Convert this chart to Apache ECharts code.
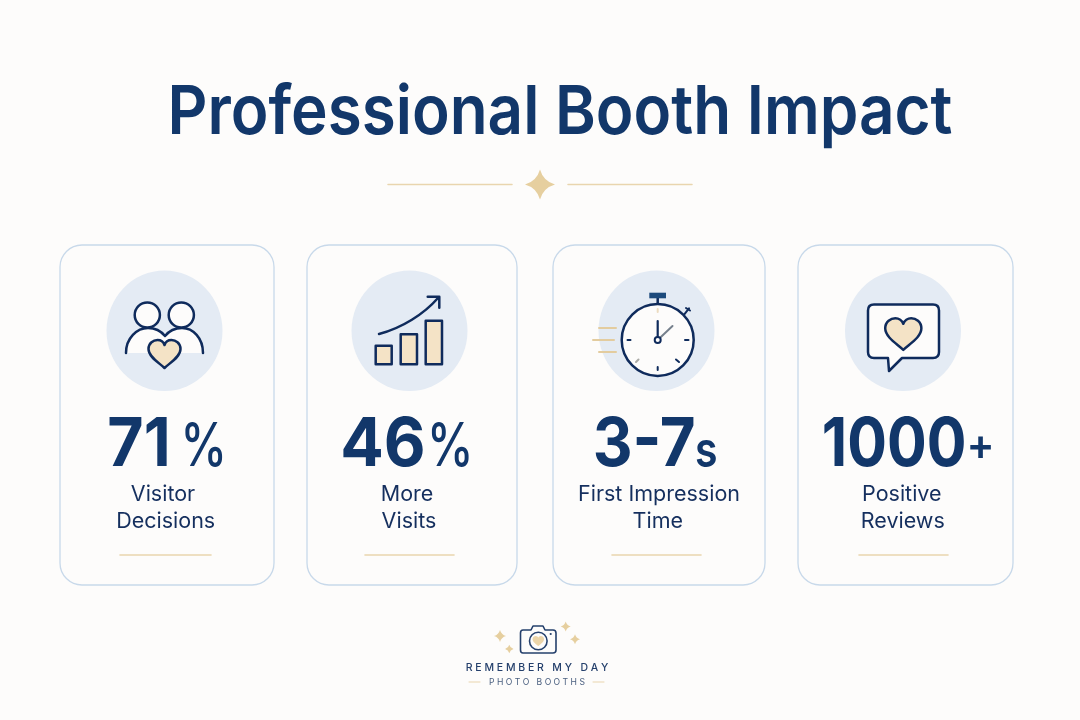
<!DOCTYPE html>
<html><head><meta charset="utf-8">
<style>html,body{margin:0;padding:0;background:#fdfcfb}#c{width:1080px;height:720px}</style>
<script src="https://cdn.jsdelivr.net/npm/echarts@6/dist/echarts.min.js"></script>
</head><body><div id="c"></div>
<script>
const titleText = 'Professional Booth Impact';
const statNumbers = ['71', '46', '3-7', '1000'];
const statUnits = ['%', '%', 's', '+'];
const labelFirst = ['Visitor', 'More', 'First Impression', 'Positive'];
const labelSecond = ['Decisions', 'Visits', 'Time', 'Reviews'];
const brandName = 'R E M E M B E R   M Y   D A Y';
const brandSub = 'P H O T O   B O O T H S';

const NAVY = '#0f2b5c', INK = '#12376a', TXT = '#152f5e', BEIGE = '#e9d5ae', FILL = '#f4e3c6', BLUE = '#e4ebf4', EDGE = '#c8d9ea', BG = '#fdfcfb';
const G = echarts.graphic;
G.registerShape('heart', G.extendPath('M0,14 C-5,9 -16,3 -16,-5 C-16,-11 -11,-14 -7,-14 C-4,-14 -1,-12 0,-9 C1,-12 4,-14 7,-14 C11,-14 16,-11 16,-5 C16,3 5,9 0,14 Z'));
G.registerShape('spark', G.extendPath('M0,-10 Q2.2,-2.2 10,0 Q2.2,2.2 0,10 Q-2.2,2.2 -10,0 Q-2.2,-2.2 0,-10 Z'));
G.registerShape('shoulders', G.extendPath('M126,353 C126,338 137,328 148,328 C156,328 161,331 165,336 C169,331 174,328 182,328 C193,328 203,338 203,353'));
G.registerShape('trend', G.extendPath('M379,334 C402,328 424,314 438,298 M427.7,296.7 L439.3,296.7 L439.3,307.7'));
G.registerShape('bubble', G.extendPath('M874,304.5 L933,304.5 Q939,304.5 939,310.5 L939,352 Q939,358 933,358 L902,358 L889,371 L888,358 L874,358 Q868,358 868,352 L868,310.5 Q868,304.5 874,304.5 Z'));
G.registerShape('camera', G.extendPath('M523,630 L531,630 L533,626 L543,626 L545,630 L553,630 Q556,630 556,633 L556,650 Q556,653 553,653 L523,653 Q520.5,653 520.5,650 L520.5,633 Q520.5,630 523,630 Z'));

const cardX = [60, 307, 553, 798], cardW = [214, 210, 212, 215];
const iconCX = [164.5, 409.5, 656.5, 903];
const numCX = [139, 383, 644.2, 894.2], numScale = [0.92, 0.948, 0.908, 0.867];
const unitCX = [203.7, 450.3, 706.3, 980.5];
const unitStyle = [
  {size: 60, weight: 500, y: 448.4, sx: 0.78}, {size: 60, weight: 500, y: 448.4, sx: 0.78},
  {size: 50, weight: 600, y: 451.5, sx: 0.82}, {size: 44, weight: 600, y: 446.4, sx: 0.95}
];
const label1CX = [163, 407, 659, 901.8], label2CX = [165.7, 409, 657.8, 902.8];
const lineX = [[120, 211], [365, 454], [612, 701], [859, 948]];
const ln = (x1, y1, x2, y2, c, w) => ({type: 'line', shape: {x1, y1, x2, y2}, style: {stroke: c || NAVY, lineWidth: w || 2.5, lineCap: 'round'}});
const st = (c, w, f) => ({stroke: c || NAVY, lineWidth: w || 2.5, fill: f === undefined ? 'none' : f, lineJoin: 'round', lineCap: 'round'});

const icons = [
  () => [
    {type: 'shoulders', style: st(NAVY, 2.5, BG)},
    {type: 'circle', shape: {cx: 147.3, cy: 315, r: 12.6}, style: st(NAVY, 2.5, BG)},
    {type: 'circle', shape: {cx: 181.3, cy: 315, r: 12.6}, style: st(NAVY, 2.5, BG)},
    {type: 'heart', x: 164.5, y: 354, style: st(NAVY, 2.5, FILL)}
  ],
  () => [
    {type: 'trend', style: st(NAVY, 2.5)},
    {type: 'rect', shape: {x: 375.7, y: 345.7, width: 16, height: 18.6}, style: st(NAVY, 2.5, FILL)},
    {type: 'rect', shape: {x: 400.7, y: 334.3, width: 16.3, height: 30}, style: st(NAVY, 2.5, FILL)},
    {type: 'rect', shape: {x: 425.7, y: 320.7, width: 16.3, height: 43.6}, style: st(NAVY, 2.5, FILL)}
  ],
  () => [
    ln(599, 328, 616, 328, '#e3cc9f', 2), ln(593, 340, 614, 340, '#e3cc9f', 2), ln(599, 352, 616, 352, '#e3cc9f', 2),
    ln(657.7, 298, 657.7, 304, NAVY, 2.5),
    {type: 'rect', shape: {x: 649.3, y: 292.7, width: 16.7, height: 5.6}, style: {fill: '#1c4a7c'}},
    ln(684.3, 314.3, 689, 308.3, NAVY, 2), ln(686, 308, 690, 310.5, NAVY, 2),
    {type: 'circle', shape: {cx: 657.7, cy: 340, r: 36}, style: st(NAVY, 2.5, BG)},
    ln(657.7, 309, 657.7, 312, '#ecdcc0', 2), ln(657.7, 367, 657.7, 370, NAVY, 2),
    ln(627.5, 340, 630.5, 340, NAVY, 2), ln(685, 340, 688.5, 340, NAVY, 2),
    ln(676, 359.5, 679, 362, NAVY, 2), ln(636, 362, 638.5, 359.5, '#a9a9a4', 2),
    ln(657.7, 340, 657.7, 321, NAVY, 2.2), ln(657.7, 340, 672.5, 326, '#76808c', 2),
    {type: 'circle', shape: {cx: 657.7, cy: 340, r: 3}, style: st(NAVY, 2, BG)}
  ],
  () => [
    {type: 'bubble', style: st(NAVY, 2.5, BG)},
    {type: 'heart', x: 903.3, y: 334, scaleX: 1.13, scaleY: 1.13, style: st(NAVY, 2.2, FILL)}
  ]
];

const renderItem = (params) => {
  const i = params.dataIndex, u = unitStyle[i];
  return {type: 'group', children: [
    {type: 'rect', shape: {x: cardX[i], y: 245, width: cardW[i], height: 340, r: 22}, style: {fill: BG, stroke: EDGE, lineWidth: 1.3}},
    {type: 'path', shape: {pathData: 'M0,0 A1,1 0 1 1 0,2 A1,1 0 1 1 0,0 Z', x: iconCX[i] - 58, y: 270.5, width: 116, height: 120.5, layout: 'cover'}, style: {fill: BLUE}},
    ...icons[i](),
    {type: 'text', x: numCX[i], y: 446, scaleX: numScale[i], style: {text: statNumbers[i], x: 0, y: 0, align: 'center', verticalAlign: 'middle', fontFamily: 'Inter', fontWeight: 700, fontSize: 68, fill: INK}},
    {type: 'text', x: unitCX[i], y: u.y, scaleX: u.sx, style: {text: statUnits[i], x: 0, y: 0, align: 'center', verticalAlign: 'middle', fontFamily: 'Inter', fontWeight: u.weight, fontSize: u.size, fill: INK}},
    {type: 'text', style: {text: labelFirst[i], x: label1CX[i], y: 495, align: 'center', verticalAlign: 'middle', fontFamily: 'Inter', fontSize: 21.5, fill: TXT}},
    {type: 'text', style: {text: labelSecond[i], x: label2CX[i], y: 521.6, align: 'center', verticalAlign: 'middle', fontFamily: 'Inter', fontSize: 21.5, fill: TXT}},
    ln(lineX[i][0], 555, lineX[i][1], 555, BEIGE, 1.6)
  ]};
};

const spark = (x, y, s) => ({type: 'spark', x, y, scaleX: s, scaleY: s, style: {fill: '#e6cf9f'}});
const chart = echarts.init(document.getElementById('c'), null, {renderer: 'canvas'});
chart.setOption({
  animation: false,
  backgroundColor: BG,
  series: [{type: 'custom', coordinateSystem: 'none', silent: true, data: statNumbers.map((_, i) => i), renderItem}],
  graphic: {elements: [
    {type: 'text', x: 560, y: 114, scaleX: 0.911, style: {text: titleText, x: 0, y: 0, align: 'center', verticalAlign: 'middle', fontFamily: 'Inter', fontWeight: 600, fontSize: 68, fill: INK}},
    ln(388, 184.5, 512, 184.5, BEIGE, 1.5), ln(568, 184.5, 692, 184.5, BEIGE, 1.5),
    spark(540, 184.5, 1.5),
    {type: 'camera', style: st('#25406c', 1.6)},
    {type: 'circle', shape: {cx: 538.3, cy: 641, r: 8.8}, style: st('#25406c', 1.6)},
    {type: 'heart', x: 538.3, y: 641, scaleX: 0.36, scaleY: 0.36, style: {fill: '#ecd5a9'}},
    {type: 'circle', shape: {cx: 550.7, cy: 634, r: 1.1}, style: {fill: '#25406c'}},
    spark(500, 636, 0.6), spark(509.3, 649, 0.42), spark(565.7, 626.5, 0.5), spark(575, 639.3, 0.5),
    {type: 'text', style: {text: brandName, x: 537, y: 667.5, align: 'center', verticalAlign: 'middle', fontFamily: 'Inter', fontWeight: 500, fontSize: 10.5, fill: '#25406c'}},
    {type: 'text', style: {text: brandSub, x: 537, y: 682, align: 'center', verticalAlign: 'middle', fontFamily: 'Inter', fontSize: 8.6, fill: '#4b6080'}},
    ln(469, 682, 480, 682, BEIGE, 1), ln(593, 682, 604, 682, BEIGE, 1)
  ]}
});
</script></body></html>
